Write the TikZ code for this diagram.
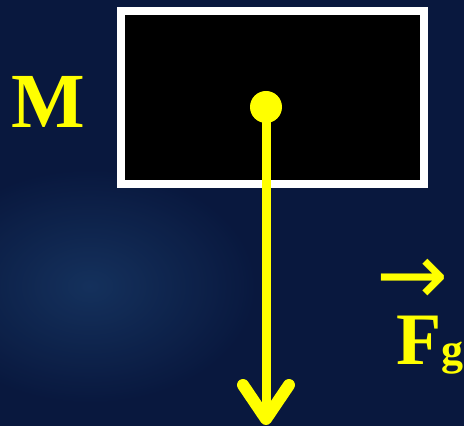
\documentclass[tikz,border=0pt]{standalone}
\usepackage{fontspec}
\setmainfont{Liberation Serif}
\newfontfamily\arrowfont{DejaVu Sans}
\usetikzlibrary{arrows.meta}
\definecolor{bgblue}{RGB}{9,24,62}
\definecolor{glowblue}{RGB}{35,80,130}
\definecolor{fyellow}{RGB}{255,255,0}
\tikzset{
  massbox/.style={draw=white, line width=8pt, fill=black},
  labeltext/.style={text=fyellow, font=\bfseries, inner sep=0pt},
  forcearrow/.style={draw=fyellow, line width=9pt, -{Straight Barb[length=34pt,width=46pt,line width=12pt,round]}}
}

\begin{document}
\begin{tikzpicture}[x=1pt,y=1pt]
\useasboundingbox (0,0) rectangle (464,426);     %固定画布大小
\fill[bgblue] (0,0) rectangle (464,426);       %深蓝色背景
\shade[inner color=glowblue, outer color=bgblue, opacity=0.45] (90,140) ellipse (170pt and 120pt);     %背景左侧稍亮
\draw[massbox] (121,242) rectangle (424,415);     %质量块
\node[circle, fill=fyellow, inner sep=0pt, minimum size=32pt] (dot) at (266,319) {};     %质心
\coordinate (tip) at (266,1);
\draw[forcearrow] (dot.center) -- (tip);       %重力箭头
\node[labeltext, font=\fontsize{78}{80}\selectfont\bfseries, anchor=base] (mass) at (48,298) {M};
\node[labeltext, font=\fontsize{74}{76}\selectfont\bfseries, text height=50pt, text depth=0pt, anchor=base west] (force) at (396,61) {F};
\node[labeltext, font=\fontsize{44}{46}\selectfont\bfseries, anchor=base west] (sub) at (force.base east) {g};
\node[labeltext, font=\arrowfont\fontsize{86}{88}\selectfont, text height=20pt, text depth=0pt, anchor=base] (vec) at (413,121) {→};     %矢量符号
\end{tikzpicture}
\end{document}
